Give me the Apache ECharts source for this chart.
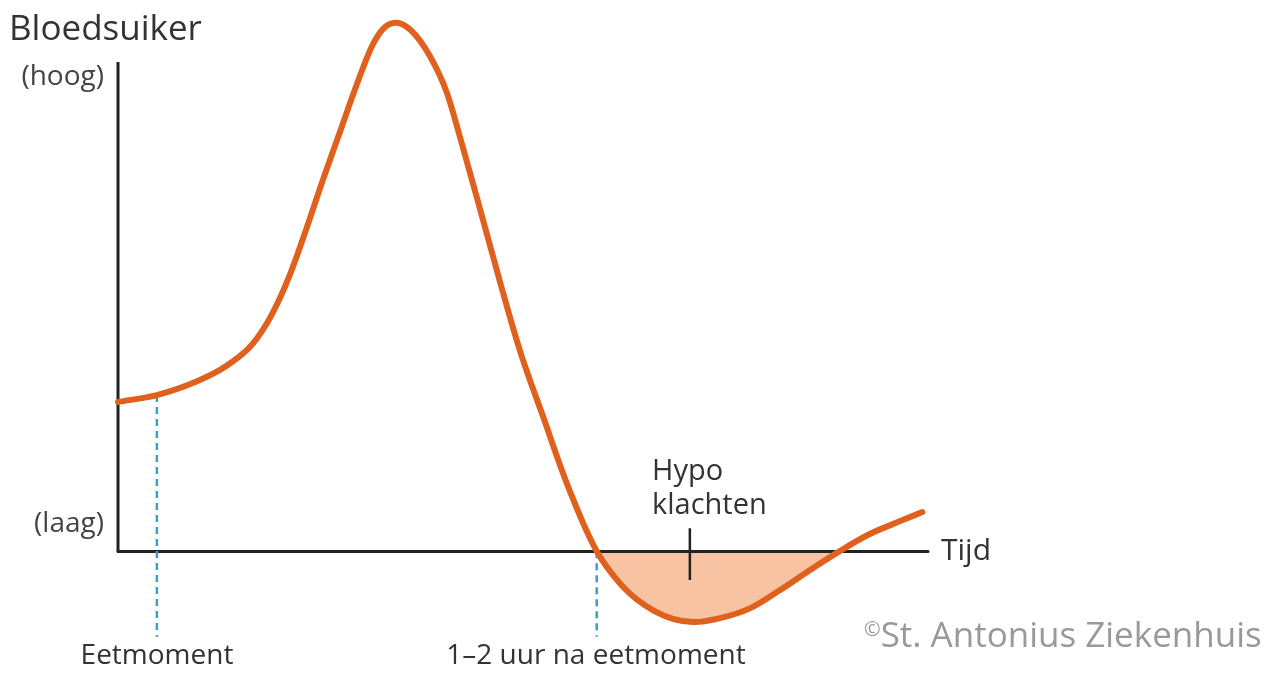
<!DOCTYPE html>
<html>
<head>
<meta charset="utf-8">
<script src="https://cdn.jsdelivr.net/npm/echarts@6/dist/echarts.min.js"></script>
<style>
html,body{margin:0;padding:0;background:#fff;}
#c{width:1281px;height:673px;}
</style>
</head>
<body>
<div id="c"></div>
<script>
// Curve: time (0..100) vs blood sugar (0 = "laag", 100 = "hoog")
const curveX = [0, 4.8, 9.3, 13.5, 16.7, 19.1, 21.2, 23.3, 25.3, 27.4, 29.5, 31.5, 32.7, 34.4, 36.0, 37.3, 38.5, 40.6, 42.5, 44.8, 47.2, 49.6, 52.5, 55.4, 59.1, 62.2, 66.3, 71.0, 74.3, 78.0, 81.7, 85.4, 89.1, 92.8, 96.5, 99.3];
const curveY = [30.5, 31.9, 34.4, 38.0, 42.5, 48.7, 56.4, 66.1, 75.9, 85.7, 95.5, 103.7, 106.7, 108.0, 106.7, 104.3, 101.2, 93.7, 83.0, 69.3, 54.8, 41.1, 27.4, 13.9, 0, -7.0, -12.3, -14.5, -13.7, -11.7, -8.0, -3.9, 0, 3.5, 6.1, 8.0];
// Hypo zone: portion of the curve below the "laag" level
const hypoStart = 59.1, hypoEnd = 89.1;
// Markers
const eatTime = 4.8, eatLevel = 31.9;
const afterTime = 59.1;
const hypoTick = 70.6;
const yTop = 100;
const labels = {
  title: 'Bloedsuiker', high: '(hoog)', low: '(laag)', xName: 'Tijd',
  eat: 'Eetmoment', after: '1–2 uur na eetmoment', hypo: 'Hypo\nklachten',
  copy: '©', credit: 'St. Antonius Ziekenhuis'
};

const curve = curveX.map((x, i) => [x, curveY[i]]);
const iStart = curveX.indexOf(hypoStart), iEnd = curveX.indexOf(hypoEnd);

// smooth cubic Hermite path (x as parameter) through pixel points from the axes
function splinePath(px, from, to) {
  const n = px.length, h = [], d = [], m = [];
  for (let i = 0; i < n - 1; i++) { h[i] = px[i + 1][0] - px[i][0]; d[i] = (px[i + 1][1] - px[i][1]) / h[i]; }
  m[0] = d[0]; m[n - 1] = d[n - 2];
  for (let i = 1; i < n - 1; i++) m[i] = (h[i] * d[i - 1] + h[i - 1] * d[i]) / (h[i - 1] + h[i]);
  let s = 'M' + px[from][0] + ' ' + px[from][1];
  for (let i = from; i < to; i++) {
    const p1 = px[i], p2 = px[i + 1], k = h[i] / 3;
    s += ' C' + (p1[0] + k) + ' ' + (p1[1] + m[i] * k) + ' ' + (p2[0] - k) + ' ' + (p2[1] - m[i + 1] * k) + ' ' + p2[0] + ' ' + p2[1];
  }
  return s;
}

const FONT = 'Open Sans';
const f = s => s + 'px "' + FONT + '"';
const chart = echarts.init(document.getElementById('c'));
chart.setOption({
  animation: false,
  grid: { left: 118, right: 353, top: 13, bottom: 24 },
  xAxis: {
    type: 'value', min: 0, max: 100, z: 3,
    axisLine: { show: true, onZero: true, lineStyle: { color: '#222', width: 3 } },
    axisTick: { show: false }, axisLabel: { show: false }, splitLine: { show: false },
    name: labels.xName, nameLocation: 'end', nameGap: 13,
    nameTextStyle: { fontFamily: FONT, fontSize: 30, color: '#333', verticalAlign: 'middle' }
  },
  yAxis: {
    type: 'value', min: -20, max: 110,
    axisLine: { show: false }, axisTick: { show: false }, axisLabel: { show: false }, splitLine: { show: false }
  },
  series: [
    { type: 'custom', data: curve, z: 1, clip: false,
      encode: { x: 0, y: 1 },
      renderItem: function (params, api) {
        if (params.dataIndex !== 0) return null;
        const px = curve.map(p => api.coord(p));
        return { type: 'path', shape: { pathData: splinePath(px, iStart, iEnd) + ' Z' },
          style: { fill: '#f7c3a2', stroke: null } };
      } },
    { type: 'line', data: [[0, 0], [0, yTop]], symbol: 'none', z: 3,
      lineStyle: { color: '#222', width: 3 } },
    { type: 'line', data: [[eatTime, eatLevel], [eatTime, -17.5]], symbol: 'none', z: 4,
      lineStyle: { color: '#3aa0c6', width: 2.5, type: [7, 5] } },
    { type: 'line', data: [[afterTime, 0], [afterTime, -17.5]], symbol: 'none', z: 4,
      lineStyle: { color: '#3aa0c6', width: 2.5, type: [7, 5] } },
    { type: 'line', data: [[hypoTick, 4.7], [hypoTick, -5.9]], symbol: 'none', z: 4,
      lineStyle: { color: '#222', width: 2.5 } },
    { type: 'custom', data: curve, z: 5, clip: false,
      encode: { x: 0, y: 1 },
      renderItem: function (params, api) {
        if (params.dataIndex !== 0) return null;
        const px = curve.map(p => api.coord(p));
        return { type: 'path', shape: { pathData: splinePath(px, 0, px.length - 1) },
          style: { fill: null, stroke: '#e0601d', lineWidth: 6, lineCap: 'round', lineJoin: 'round' } };
      } }
  ],
  graphic: [
    { type: 'text', x: 9, y: 13, style: { text: labels.title, font: f(35), fill: '#333', verticalAlign: 'top' } },
    { type: 'text', x: 104, y: 63, style: { text: labels.high, font: f(28), fill: '#444', align: 'right', verticalAlign: 'top' } },
    { type: 'text', x: 104, y: 510, style: { text: labels.low, font: f(28), fill: '#444', align: 'right', verticalAlign: 'top' } },
    { type: 'text', x: 157, y: 642, style: { text: labels.eat, font: f(28), fill: '#333', align: 'center', verticalAlign: 'top' } },
    { type: 'text', x: 596, y: 642, style: { text: labels.after, font: f(28), fill: '#333', align: 'center', verticalAlign: 'top' } },
    { type: 'text', x: 652, y: 455, style: { text: labels.hypo, font: f(29), fill: '#333', lineHeight: 34, verticalAlign: 'top' } },
    { type: 'text', x: 864, y: 620, style: {
        text: '{a|' + labels.copy + '}{b|' + labels.credit + '}', fill: '#999', verticalAlign: 'top',
        rich: { a: { font: f(20), fill: '#999', verticalAlign: 'top' }, b: { font: f(35), fill: '#999' } } } }
  ]
});
</script>
</body>
</html>
